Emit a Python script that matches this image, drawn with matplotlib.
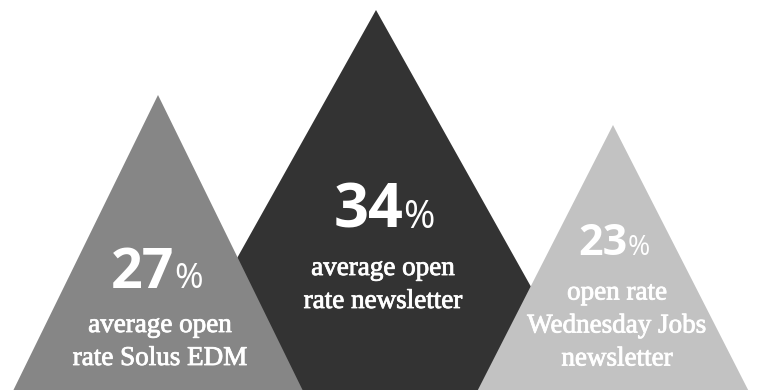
import matplotlib
matplotlib.use("Agg")
import matplotlib.pyplot as plt
import matplotlib.patheffects as pe
from matplotlib.patches import Polygon

# values
rates = [27, 34, 23]
labels = ["average open\nrate Solus EDM",
          "average open\nrate newsletter",
          "open rate\nWednesday Jobs\nnewsletter"]
colors = ["#868686", "#333333", "#c2c2c2"]

# triangle geometry in pixel units (x of peak, y of peak from top, half-width per px of height)
peak_x = [158, 376, 613]
peak_y = [95, 10, 125]
spread = [0.49, 0.56, 0.51]
order = [1, 0, 2]  # dark one sits behind

# text placement
num_x = [157, 384, 614]
num_y = [288, 228, 255]
num_size = [40, 44, 31]
lab_x = [160, 383, 617]
lab_y = [342, 285, 326]

W, H = 757, 390
fig = plt.figure(figsize=(W / 100, H / 100), dpi=100)
ax = fig.add_axes([0, 0, 1, 1])
ax.set_xlim(0, W)
ax.set_ylim(H, 0)
ax.axis("off")

for z, i in enumerate(order):
    half = spread[i] * (H - peak_y[i])
    tri = Polygon([(peak_x[i], peak_y[i]), (peak_x[i] - half, H), (peak_x[i] + half, H)],
                  closed=True, facecolor=colors[i], edgecolor="none", zorder=z + 1)
    ax.add_patch(tri)

fig.canvas.draw()
r = fig.canvas.get_renderer()
thick = [pe.withStroke(linewidth=0.6, foreground="white")]

for i in range(3):
    t1 = ax.text(0, num_y[i], str(rates[i]), family="Open Sans", weight="bold",
                 fontsize=num_size[i], color="white", va="baseline", ha="left", zorder=10)
    t2 = ax.text(0, num_y[i], "%", family="Open Sans", weight="normal",
                 fontsize=num_size[i] * 0.62, color="white", va="baseline", ha="left", zorder=10)
    w1 = t1.get_window_extent(r).width
    w2 = t2.get_window_extent(r).width
    x0 = num_x[i] - (w1 + w2) / 2
    t1.set_x(x0)
    t2.set_x(x0 + w1)
    ax.text(lab_x[i], lab_y[i], labels[i], family="Liberation Serif", fontsize=19.5,
            color="white", ha="center", va="center", linespacing=1.42,
            multialignment="center", zorder=10, path_effects=thick)

fig.savefig("out.png", dpi=100)
